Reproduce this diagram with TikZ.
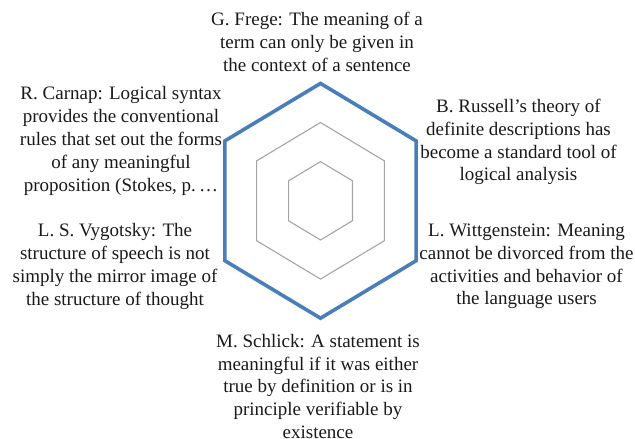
\documentclass[tikz,border=0pt]{standalone}
\usepackage{fontspec}
\setmainfont{Liberation Serif}
\definecolor{hexblue}{RGB}{74,126,187}
\definecolor{gridgray}{RGB}{165,165,165}
\begin{document}
\begin{tikzpicture}[x=1pt,y=-1pt,
  lbl/.style={align=center,inner sep=0pt,font=\fontsize{19}{22.8}\selectfont,text=black!90},
  grid/.style={draw=gridgray,line width=1.1pt,line join=miter},
  outer/.style={draw=hexblue,line width=3.6pt,line join=miter}]
\useasboundingbox (0,0) rectangle (635,439);
% hexagons
\foreach \r/\st in {39.2/grid,78.3/grid,117.4/outer}{
  \draw[\st] (320.5,200.8-\r) -- (320.5+0.815*\r,200.8-0.51*\r) -- (320.5+0.815*\r,200.8+0.51*\r)
    -- (320.5,200.8+\r) -- (320.5-0.815*\r,200.8+0.51*\r) -- (320.5-0.815*\r,200.8-0.51*\r) -- cycle;
}
% labels
\node[lbl,anchor=north] (frege) at (317,12) {G. Frege: The meaning of a\\term can only be given in\\the context of a sentence};
\node[lbl] (carnap) at (121,141) {R. Carnap: Logical syntax\\provides the conventional\\rules that set out the forms\\of any meaningful\\proposition (Stokes, p.\,\dots};
\node[lbl] (vygotsky) at (115,266.5) {L. S. Vygotsky: The\\structure of speech is not\\simply the mirror image of\\the structure of thought};
\node[lbl] (russell) at (518.5,142) {B. Russell’s theory of\\definite descriptions has\\become a standard tool of\\logical analysis};
\node[lbl] (wittgenstein) at (526.5,266.5) {L. Wittgenstein: Meaning\\cannot be divorced from the\\activities and behavior of\\the language users};
\node[lbl,anchor=north] (schlick) at (318,334) {M. Schlick: A statement is\\meaningful if it was either\\true by definition or is in\\principle verifiable by\\existence};
\end{tikzpicture}
\end{document}
